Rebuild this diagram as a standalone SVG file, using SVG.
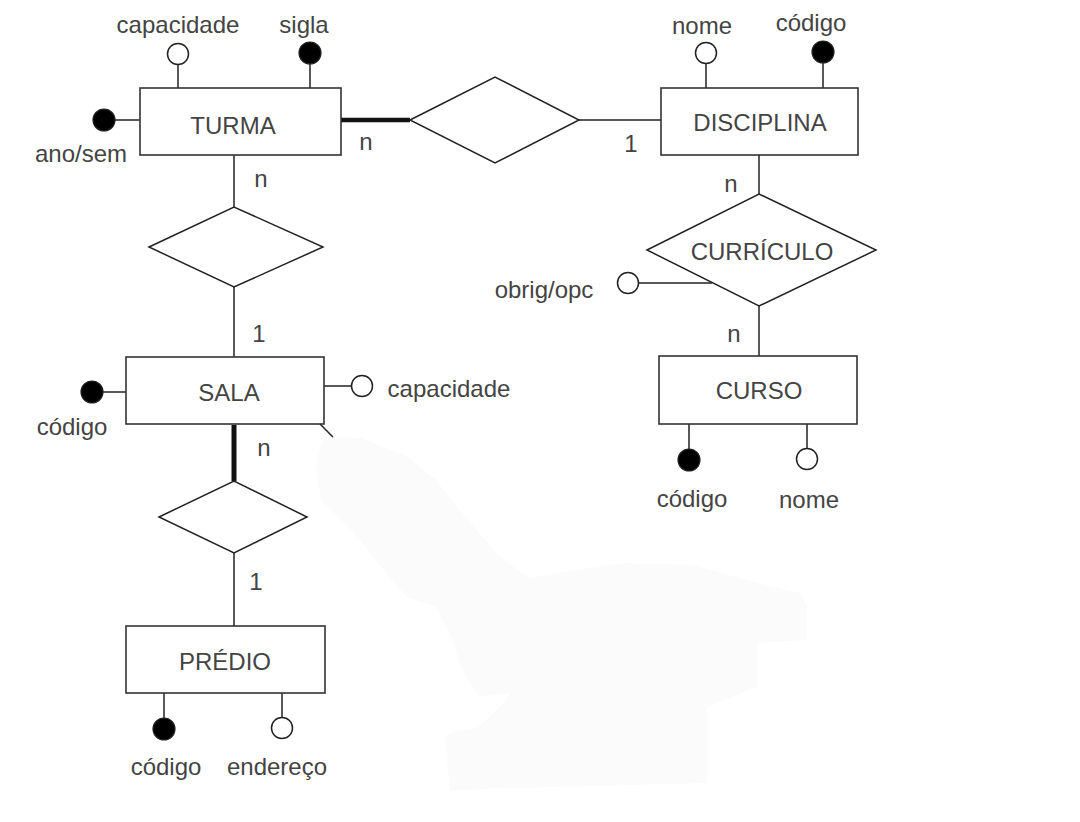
<svg xmlns="http://www.w3.org/2000/svg" width="1080" height="822" viewBox="0 0 1080 822">
<defs>
<style>
.ent{fill:#fff;stroke:#333;stroke-width:1.6}
.rel{fill:#fff;stroke:#222;stroke-width:1.5}
.ln{stroke:#222;stroke-width:1.5;fill:none}
.thick{stroke:#111;stroke-width:4.5;fill:none}
.key{fill:#000;stroke:#222;stroke-width:1.2}
.opt{fill:#fff;stroke:#222;stroke-width:1.5}
text{font-family:"Liberation Sans",Arial,sans-serif;font-size:24px;fill:#444;text-anchor:middle}
</style>
</defs>
<rect x="0" y="0" width="1080" height="822" fill="#fff"/>
<path d="M330,437 L361,438 L391,450 L407,457 L436,480 L454,503 L479,533 L500,557 L529,578 L621,563 L693,565 L754,582 L800,593 L807,607 L807,640 L757,643 L757,687 L707,707 L707,783 L514,788 L450,790 L445,737 L450,733 L479,727 L500,707 L511,693 L479,697 L461,667 L450,633 L436,607 L407,597 L386,573 L354,533 L321,500 L316,467 L321,443 Z" fill="#fbfbfb"/>
<g id="connectors">
<line class="thick" x1="341" y1="120" x2="410" y2="120"/>
<line class="ln" x1="579" y1="120" x2="661" y2="120"/>
<line class="ln" x1="234" y1="155" x2="234" y2="207"/>
<line class="ln" x1="234" y1="287" x2="234" y2="357"/>
<line class="ln" x1="759" y1="155" x2="759" y2="194"/>
<line class="ln" x1="759" y1="306" x2="759" y2="356"/>
<line class="thick" x1="234" y1="425" x2="234" y2="481" style="stroke-width:5"/>
<line class="ln" x1="234" y1="553" x2="234" y2="626"/>
<line class="ln" x1="320" y1="424" x2="333" y2="437"/>
<text x="366" y="150">n</text>
<text x="261" y="187">n</text>
<text x="631" y="152">1</text>
<text x="731" y="192">n</text>
<text x="734" y="342">n</text>
<text x="259" y="342">1</text>
<text x="264" y="456">n</text>
<text x="256" y="590">1</text>
</g>
<g id="turma">
<line class="ln" x1="178" y1="65" x2="178" y2="88"/>
<circle class="opt" cx="178" cy="54" r="10.5"/>
<line class="ln" x1="310" y1="64" x2="310" y2="88"/>
<circle class="key" cx="310" cy="53" r="11"/>
<line class="ln" x1="115" y1="120" x2="140" y2="120"/>
<circle class="key" cx="104" cy="120" r="11"/>
<rect class="ent" x="140" y="88" width="201" height="67"/>
<text x="233" y="134">TURMA</text>
<text x="178" y="33">capacidade</text>
<text x="304" y="33">sigla</text>
<text x="81" y="162">ano/sem</text>
</g>
<g id="disciplina">
<line class="ln" x1="706" y1="64" x2="706" y2="88"/>
<circle class="opt" cx="706" cy="53" r="10.5"/>
<line class="ln" x1="823" y1="63" x2="823" y2="88"/>
<circle class="key" cx="823" cy="52" r="11"/>
<rect class="ent" x="661" y="88" width="197" height="67"/>
<text x="760" y="131">DISCIPLINA</text>
<text x="702" y="34">nome</text>
<text x="811" y="31">código</text>
</g>
<g id="rel-turma-disciplina">
<polygon class="rel" points="410,120 495,77 579,120 495,163"/>
</g>
<g id="rel-turma-sala">
<polygon class="rel" points="149,247 234,207 323,247 234,287"/>
</g>
<g id="curriculo">
<line class="ln" x1="639" y1="283" x2="712" y2="283"/>
<circle class="opt" cx="628" cy="283" r="10.5"/>
<polygon class="rel" points="647,250 759,194 876,250 759,306"/>
<text x="762" y="260">CURRÍCULO</text>
<text x="544" y="298">obrig/opc</text>
</g>
<g id="curso">
<line class="ln" x1="689" y1="424" x2="689" y2="449"/>
<circle class="key" cx="689" cy="460" r="11"/>
<line class="ln" x1="807" y1="424" x2="807" y2="448"/>
<circle class="opt" cx="807" cy="459" r="10.5"/>
<rect class="ent" x="659" y="356" width="198" height="68"/>
<text x="759" y="399">CURSO</text>
<text x="692" y="507">código</text>
<text x="809" y="508">nome</text>
</g>
<g id="sala">
<line class="ln" x1="103" y1="392" x2="126" y2="392"/>
<circle class="key" cx="92" cy="392" r="11"/>
<line class="ln" x1="324" y1="386" x2="351" y2="386"/>
<circle class="opt" cx="362" cy="386" r="10.5"/>
<rect class="ent" x="126" y="357" width="198" height="67"/>
<text x="229" y="401">SALA</text>
<text x="72" y="435">código</text>
<text x="449" y="397">capacidade</text>
</g>
<g id="rel-sala-predio">
<polygon class="rel" points="159,517 234,481 307,517 234,553"/>
</g>
<g id="predio">
<line class="ln" x1="164" y1="693" x2="164" y2="718"/>
<circle class="key" cx="164" cy="729" r="11"/>
<line class="ln" x1="282" y1="693" x2="282" y2="717"/>
<circle class="opt" cx="282" cy="728" r="10.5"/>
<rect class="ent" x="126" y="626" width="199" height="67"/>
<text x="225" y="670">PRÉDIO</text>
<text x="166" y="775">código</text>
<text x="277" y="775">endereço</text>
</g>
</svg>
